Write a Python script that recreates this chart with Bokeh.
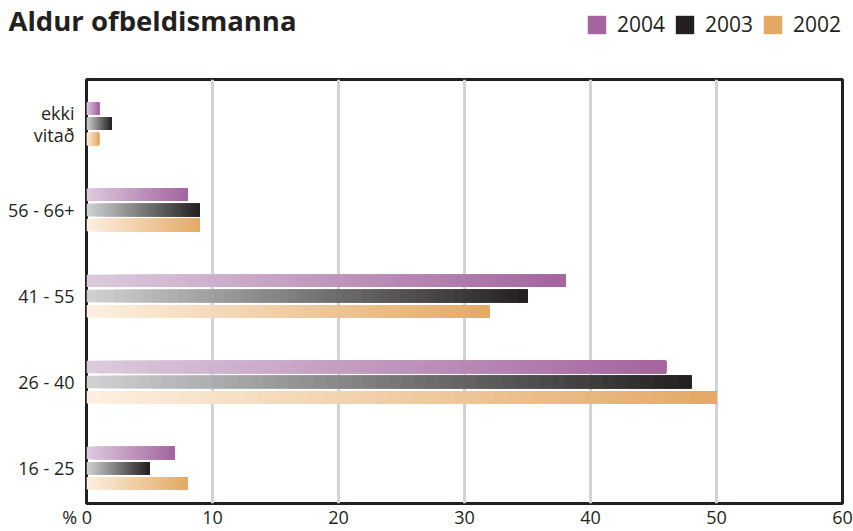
import numpy as np
from bokeh.plotting import figure
from bokeh.layouts import column
from bokeh.models import Range1d, FixedTicker, Label, Legend, LegendItem, ColumnDataSource
from bokeh.embed import file_html
from bokeh.resources import INLINE

# ---- data ----
categories = ["16 - 25", "26 - 40", "41 - 55", "56 - 66+", "ekki\nvitað"]
years = ["2004", "2003", "2002"]
v2004 = [7, 46, 38, 8, 1]
v2003 = [5, 48, 35, 9, 2]
v2002 = [8, 50, 32, 9, 1]
x_ticks = [0, 10, 20, 30, 40, 50, 60]
title_text = "Aldur ofbeldismanna"
unit_text = "%"

series = {"2004": v2004, "2003": v2003, "2002": v2002}
color_full = {"2004": "#a4649e", "2003": "#231f20", "2002": "#e3a964"}
color_light = {"2004": "#dccbdd", "2003": "#d0d2d3", "2002": "#fcf0e2"}
offset = {"2004": 0.176, "2003": 0.0, "2002": -0.176}
BAR_H = 0.145
FONT = "Open Sans"
TXT = "#231f20"
W = 853
HEAD_H = 77
MAIN_H = 454


def hex2rgb(h):
    h = h.lstrip("#")
    return np.array([int(h[i:i + 2], 16) for i in (0, 2, 4)], dtype=float)


def rgb2hex(c):
    return "#%02x%02x%02x" % tuple(int(round(x)) for x in c)


# ---------------- header: title + legend ----------------
h = figure(width=W, height=HEAD_H, x_range=Range1d(0, W), y_range=Range1d(HEAD_H, 0),
           output_backend="svg", toolbar_location=None,
           x_axis_location=None, y_axis_location=None,
           min_border=0)
try:
    h.frame_align = False
except Exception:
    pass
h.outline_line_color = None
h.grid.grid_line_color = None
h.background_fill_color = "white"
h.border_fill_color = "white"

h.add_layout(Label(x=8, y=20, text=title_text, text_font=FONT,
                   text_font_style="bold", text_font_size="27.5px",
                   text_color=TXT, text_align="left", text_baseline="alphabetic"))

items = []
for i, yr in enumerate(years):
    r = h.hbar(y=[0], left=[0], right=[series[yr][0]], height=1,
               fill_color=color_full[yr], line_color=None, visible=False)
    items.append(LegendItem(label=yr, renderers=[r]))
legend = Legend(items=items, orientation="horizontal", location=(585, HEAD_H - 38),
                glyph_width=23, glyph_height=23, label_standoff=9, spacing=8,
                padding=0, margin=0, border_line_color=None,
                background_fill_alpha=0, inactive_fill_alpha=0,
                label_text_font=FONT, label_text_font_size="21px",
                label_text_color=TXT, label_height=23, label_text_baseline="middle")
h.add_layout(legend)

# ---------------- main chart ----------------
p = figure(width=W, height=MAIN_H,
           x_range=Range1d(0, 60), y_range=Range1d(-0.41, 4.515),
           output_backend="svg", toolbar_location=None,
           min_border_left=86, min_border_right=11, min_border_top=2,
           min_border_bottom=26)
p.background_fill_color = "white"
p.border_fill_color = "white"
p.outline_line_color = TXT
p.outline_line_width = 3

# gradient bars: each bar drawn as stacked slices (light at 0 -> full at bar end)
N = 48
ys, lefts, rights, cols = [], [], [], []
for yr in years:
    vals = series[yr]
    c0, c1 = hex2rgb(color_light[yr]), hex2rgb(color_full[yr])
    for k in range(N):
        t = (k + 0.5) / N
        col = rgb2hex(c0 + (c1 - c0) * t)
        for i, v in enumerate(vals):
            ys.append(i + offset[yr])
            lefts.append(v * k / N)
            rights.append(v)
            cols.append(col)
src = ColumnDataSource(dict(y=ys, left=lefts, right=rights, color=cols))
p.hbar(y="y", left="left", right="right", height=BAR_H, fill_color="color",
       line_color=None, source=src)

# axes
NB = "\u00a0"
p.xaxis.ticker = FixedTicker(ticks=x_ticks)
p.xaxis.major_label_overrides = {0: unit_text + NB + "0" + NB * 4}
p.xaxis.axis_line_color = None
p.xaxis.major_tick_line_color = None
p.xaxis.minor_tick_line_color = None
p.xaxis.major_tick_out = 0
p.xaxis.major_tick_in = 0
p.xaxis.major_label_standoff = 1
p.xaxis.major_label_text_font = FONT
p.xaxis.major_label_text_font_size = "18px"
p.xaxis.major_label_text_color = TXT

p.yaxis.ticker = FixedTicker(ticks=list(range(len(categories))))
p.yaxis.major_label_overrides = {i: c for i, c in enumerate(categories)}
p.yaxis.axis_line_color = None
p.yaxis.major_tick_line_color = None
p.yaxis.minor_tick_line_color = None
p.yaxis.major_tick_out = 0
p.yaxis.major_tick_in = 0
p.yaxis.major_label_standoff = 12
p.yaxis.major_label_text_font = FONT
p.yaxis.major_label_text_font_size = "18px"
p.yaxis.major_label_text_line_height = 0.92
p.yaxis.major_label_text_color = TXT

p.ygrid.grid_line_color = None
p.xgrid.ticker = FixedTicker(ticks=x_ticks[1:-1])
p.xgrid.grid_line_color = "#d1d3d4"
p.xgrid.grid_line_width = 3

layout = column(h, p, spacing=0)
open("out.html", "w").write(file_html(layout, INLINE))
